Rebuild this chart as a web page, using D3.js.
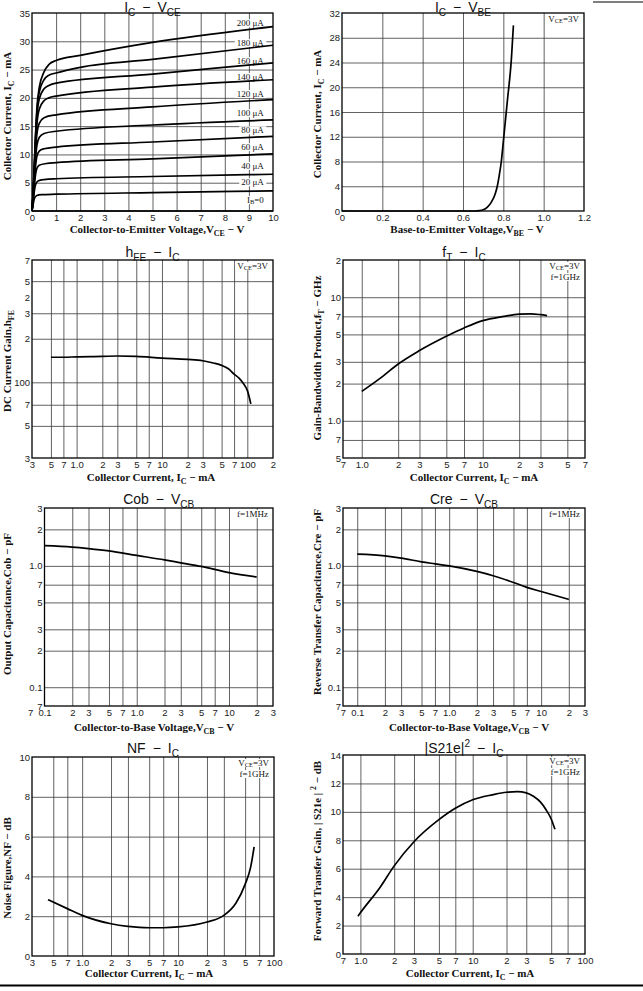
<!DOCTYPE html>
<html>
<head>
<meta charset="utf-8">
<title>Transistor characteristic curves</title>
<script src="https://cdn.jsdelivr.net/npm/d3@7"></script>
<style>
  body { margin:0; background:#fff; }
  .grid line { stroke:#3a3a3a; stroke-width:0.8; }
  .grid path { display:none; }
  .ticks path, .ticks line { display:none; }
  .ticks text { font-family:"Liberation Sans", Arial, sans-serif; font-size:9.5px; fill:#222; }
  .title { font-family:"Liberation Sans", Arial, sans-serif; font-size:14px; fill:#111; }
  .axtitle { font-family:"Liberation Serif", "Times New Roman", serif; font-weight:bold; font-size:11px; fill:#111; }
  .note { font-family:"Liberation Serif", "Times New Roman", serif; font-size:9px; fill:#111; }
  .curve { fill:none; stroke:#000; stroke-width:1.7; }
</style>
</head>
<body>
<div id="sheet"></div>
<script>
// ---- IC - VCE (one curve per base current, uA) ----
var vceTicks = [0,1,2,3,4,5,6,7,8,9,10];
var vceIcTicks = [0,5,10,15,20,25,30,35];
var vceIb0   = [[0,0],[10,0]];
var vceIb20  = [[0,0],[0.05,1.2],[0.1,2.2],[0.2,2.75],[0.4,2.9],[1,2.97],[5,3.25],[10,3.55]];
var vceIb40  = [[0,0],[0.05,1.8],[0.1,3.6],[0.15,4.7],[0.25,5.3],[0.5,5.55],[1,5.7],[5,6.1],[10,6.5]];
var vceIb60  = [[0,0],[0.05,2.2],[0.1,4.6],[0.15,6.5],[0.2,7.5],[0.3,8.1],[0.6,8.4],[1,8.55],[5,9.2],[10,10.1]];
var vceIb80  = [[0,0],[0.05,2.5],[0.1,5.5],[0.15,8.0],[0.2,9.6],[0.3,10.6],[0.5,11.0],[1,11.3],[5,12.2],[10,13.2]];
var vceIb100 = [[0,0],[0.05,2.8],[0.1,6.3],[0.15,9.5],[0.2,11.5],[0.3,13.0],[0.5,13.7],[1,14.1],[5,15.2],[10,16.1]];
var vceIb120 = [[0,0],[0.05,3.0],[0.1,7.0],[0.15,10.8],[0.2,13.5],[0.3,15.5],[0.5,16.5],[1,17.0],[5,18.4],[10,19.7]];
var vceIb140 = [[0,0],[0.05,3.2],[0.1,7.5],[0.15,12.0],[0.2,15.2],[0.3,18.0],[0.5,19.5],[0.7,20.0],[1,20.3],[5,21.9],[10,23.2]];
var vceIb160 = [[0,0],[0.05,3.4],[0.1,8.0],[0.15,12.8],[0.2,16.5],[0.3,19.8],[0.5,21.6],[0.7,22.2],[1,22.6],[5,24.2],[10,26.2]];
var vceIb180 = [[0,0],[0.05,3.5],[0.1,8.3],[0.15,13.3],[0.2,17.3],[0.3,21.0],[0.5,23.2],[0.7,24.0],[1,24.4],[2,25.4],[5,26.8],[10,29.3]];
var vceIb200 = [[0,0],[0.05,3.6],[0.1,8.6],[0.15,13.8],[0.2,18.0],[0.3,21.8],[0.5,24.6],[0.7,25.9],[1,26.6],[2,27.5],[5,29.8],[10,32.6]];
var vceLabelIb = ["0","20","40","60","80","100","120","140","160","180","200"];
var vceLabelIc = [1.4,5.1,8.0,11.3,14.3,17.3,20.7,23.7,26.5,29.7,33.2];

// ---- IC - VBE ----
var vbeTicks = [0,0.2,0.4,0.6,0.8,1.0,1.2];
var vbeTickLabels = ["0","0.2","0.4","0.6","0.8","1.0","1.2"];
var vbeIcTicks = [0,4,8,12,16,20,24,28,32];
var vbeV  = [0, 0.66, 0.68, 0.70, 0.72, 0.74, 0.76, 0.77, 0.78, 0.79, 0.80, 0.82, 0.84, 0.85];
var vbeIc = [0, 0, 0.05, 0.2, 0.6, 1.4, 2.8, 4.0, 5.8, 8.0, 11.2, 17.8, 24.6, 30.0];

// ---- hFE - IC ----
var hfeXTicks  = [0.3,0.5,0.7,1,2,3,5,7,10,20,30,50,70,100,200];
var hfeXLabels = ["3","5","7","1.0","2","3","5","7","10","2","3","5","7","100","2"];
var hfeYTicks  = [30,50,70,100,200,300,383,500,700];
var hfeYLabels = ["3","5","7","100","2","3","2","5","7"];
var hfeIc  = [0.5, 0.7, 1, 2, 3, 5, 10, 20, 30, 40, 50, 60, 70, 80, 90, 100, 110];
var hfeVal = [149, 149, 150, 151, 152, 151, 147, 144, 141, 136, 131, 124, 114, 107, 98, 88, 71];

// ---- fT - IC ----
var ftXTicks  = [0.7,1,2,3,5,7,10,20,30,50,70];
var ftXLabels = ["7","1.0","2","3","5","7","10","2","3","5","7"];
var ftYTicks  = [0.5,0.7,1,2,3,5,7,10,20];
var ftYLabels = ["5","7","1.0","2","3","5","7","10","2"];
var ftIc  = [1.0, 1.5, 2, 3, 5, 7, 10, 15, 20, 25, 30, 34];
var ftVal = [1.73, 2.3, 2.88, 3.7, 4.83, 5.64, 6.47, 7.0, 7.3, 7.33, 7.22, 7.1];

// ---- Cob / Cre - VCB ----
var capXTicks  = [0.07,0.1,0.2,0.3,0.5,0.7,1,2,3,5,7,10,20,30];
var capXLabels = ["7","0.1","2","3","5","7","1.0","2","3","5","7","10","2","3"];
var capYTicks  = [0.07,0.1,0.2,0.3,0.5,0.7,1,2,3];
var capYLabels = ["7","0.1","2","3","5","7","1.0","2","3"];
var cobV   = [0.1, 0.2, 0.3, 0.5, 1, 2, 3, 5, 10, 20];
var cobVal = [1.47, 1.43, 1.39, 1.33, 1.22, 1.12, 1.06, 0.99, 0.88, 0.81];
var creV   = [0.1, 0.2, 0.3, 0.5, 0.7, 1, 2, 3, 5, 7, 10, 20];
var creVal = [1.25, 1.21, 1.16, 1.08, 1.04, 1.0, 0.90, 0.83, 0.73, 0.665, 0.615, 0.53];

// ---- NF - IC ----
var nfXTicks  = [0.3,0.5,0.7,1,2,3,5,7,10,20,30,50,70,100];
var nfXLabels = ["3","5","7","1.0","2","3","5","7","10","2","3","5","7","100"];
var nfYTicks  = [0,2,4,6,8,10];
var nfIc  = [0.44, 0.7, 1, 2, 3, 5, 7, 10, 20, 30, 40, 50, 57, 62];
var nfVal = [2.83, 2.38, 2.04, 1.62, 1.49, 1.42, 1.42, 1.46, 1.71, 2.04, 2.65, 3.6, 4.45, 5.48];

// ---- |S21e|^2 - IC ----
var s21XTicks  = [0.7,1,2,3,5,7,10,20,30,50,70,100];
var s21XLabels = ["7","1.0","2","3","5","7","10","2","3","5","7","100"];
var s21YTicks  = [0,2,4,6,8,10,12,14];
var s21Ic  = [0.95, 1.0, 1.5, 2, 3, 5, 7, 10, 15, 20, 25, 30, 35, 40, 45, 50, 54];
var s21Val = [2.65, 2.9, 4.7, 6.2, 7.9, 9.45, 10.25, 10.85, 11.2, 11.38, 11.42, 11.34, 11.08, 10.7, 10.15, 9.5, 8.77];

var svg = d3.select("#sheet").append("svg")
  .attr("width", 643).attr("height", 991)
  .style("display", "block").style("background", "#fff");

// text with sub/superscript pieces: kind 0 normal, 1 sub, 2 sup
function rich(sel, parts, size, drop) {
  var cur = 0;
  drop = drop || 0.3;
  parts.forEach(function(p) {
    var off = p[1] === 1 ? size * drop : (p[1] === 2 ? -size * 0.45 : 0);
    var t = sel.append("tspan").attr("dy", off - cur).text(p[0]);
    if (p[1]) t.style("font-size", (size * 0.72) + "px");
    cur = off;
  });
  return sel;
}

// white box behind a text so the grid does not run through it
function knockout(t) {
  var bb = t.node().getBBox();
  svg.insert("rect", function() { return t.node(); })
    .attr("x", bb.x - 2).attr("y", bb.y + 1).attr("width", bb.width + 4).attr("height", bb.height - 2)
    .attr("fill", "#fff");
}

function drawPanel(p) {
  var L = p.box[0], T = p.box[1], R = p.box[2], B = p.box[3];
  var x = (p.xLog ? d3.scaleLog() : d3.scaleLinear()).domain(p.xDomain).range([L, R]);
  var y = (p.yLog ? d3.scaleLog() : d3.scaleLinear()).domain(p.yDomain).range([B, T]);

  svg.append("g").attr("class", "grid").attr("transform", "translate(0," + B + ")")
    .call(d3.axisBottom(x).tickValues(p.xGrid).tickSize(-(B - T)).tickFormat(""));
  svg.append("g").attr("class", "grid").attr("transform", "translate(" + L + ",0)")
    .call(d3.axisLeft(y).tickValues(p.yGrid).tickSize(-(R - L)).tickFormat(""));

  svg.append("g").attr("class", "ticks").attr("transform", "translate(0," + B + ")")
    .call(d3.axisBottom(x).tickValues(p.xTicks).tickSize(0).tickPadding(3)
      .tickFormat(function(d, i) { return p.xLabels[i]; }));
  svg.append("g").attr("class", "ticks").attr("transform", "translate(" + L + ",0)")
    .call(d3.axisLeft(y).tickValues(p.yTicks).tickSize(0).tickPadding(2)
      .tickFormat(function(d, i) { return p.yLabels[i]; }));

  (p.notes || []).forEach(function(n, i) {
    var t = rich(svg.append("text").attr("class", "note").attr("text-anchor", "end")
      .attr("x", R - 5).attr("y", T + 9 + i * 11), n, 9, 0.12);
    knockout(t);
  });

  svg.append("rect").attr("x", L).attr("y", T).attr("width", R - L).attr("height", B - T)
    .attr("fill", "none").attr("stroke", "#000").attr("stroke-width", 1.3);

  rich(svg.append("text").attr("class", "title").attr("text-anchor", "middle")
    .attr("x", (L + R) / 2).attr("y", p.titleY), p.title, 14, 0.25);
  rich(svg.append("text").attr("class", "axtitle").attr("text-anchor", "middle")
    .attr("x", p.xTitlePos[0]).attr("y", p.xTitlePos[1]), p.xTitle, 11, 0.25);
  rich(svg.append("text").attr("class", "axtitle").attr("text-anchor", "middle")
    .attr("transform", "translate(" + p.yTitlePos[0] + "," + p.yTitlePos[1] + ") rotate(-90)"), p.yTitle, 11, 0.25);

  return {x: x, y: y};
}

function plotCurve(sc, pts) {
  svg.append("path").datum(pts).attr("class", "curve")
    .attr("d", d3.line().x(function(d) { return sc.x(d[0]); })
      .y(function(d) { return sc.y(d[1]); }).curve(d3.curveMonotoneX));
}

var minus = "\u2002\u2212\u2002";
var icTitle = [["Collector Current, I", 0], ["C", 1], [" \u2212 mA", 0]];
var vce3 = [["V", 0], ["CE", 1], ["=3V", 0]];

// ---------- IC - VCE ----------
var p1 = drawPanel({
  box: [32, 13, 273, 211], xDomain: [0, 10], yDomain: [0, 35],
  xGrid: vceTicks.slice(1, -1), yGrid: vceIcTicks.slice(1, -1),
  xTicks: vceTicks, xLabels: vceTicks.map(String), yTicks: vceIcTicks, yLabels: vceIcTicks.map(String),
  title: [["I", 0], ["C", 1], [minus + "V", 0], ["CE", 1]], titleY: 12,
  xTitle: [["Collector-to-Emitter Voltage,V", 0], ["CE", 1], [" \u2212 V", 0]], xTitlePos: [157, 233],
  yTitle: icTitle, yTitlePos: [11, 116]
});
vceLabelIb.forEach(function(ib, i) {
  var t = svg.append("text").attr("class", "note").attr("text-anchor", "end")
    .attr("x", p1.x(9.62)).attr("y", p1.y(vceLabelIc[i])).attr("dy", "0.35em");
  if (ib === "0") rich(t, [["I", 0], ["B", 1], ["=0", 0]], 9, 0.12);
  else t.text(ib + " \u03bcA");
  knockout(t);
});
[vceIb0, vceIb20, vceIb40, vceIb60, vceIb80, vceIb100, vceIb120, vceIb140, vceIb160, vceIb180, vceIb200]
  .forEach(function(c) { plotCurve(p1, c); });

// ---------- IC - VBE ----------
var p2 = drawPanel({
  box: [342, 13, 584, 211], xDomain: [0, 1.2], yDomain: [0, 32],
  xGrid: vbeTicks.slice(1, -1), yGrid: vbeIcTicks.slice(1, -1),
  xTicks: vbeTicks, xLabels: vbeTickLabels, yTicks: vbeIcTicks, yLabels: vbeIcTicks.map(String),
  title: [["I", 0], ["C", 1], [minus + "V", 0], ["BE", 1]], titleY: 12,
  xTitle: [["Base-to-Emitter Voltage,V", 0], ["BE", 1], [" \u2212 V", 0]], xTitlePos: [467, 233],
  yTitle: icTitle, yTitlePos: [321, 114],
  notes: [vce3]
});
plotCurve(p2, d3.zip(vbeV, vbeIc));

// ---------- hFE - IC ----------
var p3 = drawPanel({
  box: [32, 260, 273, 458], xLog: true, yLog: true, xDomain: [0.3, 200], yDomain: [30, 700],
  xGrid: hfeXTicks.slice(1, -1), yGrid: [50, 70, 100, 200, 300, 500],
  xTicks: hfeXTicks, xLabels: hfeXLabels, yTicks: hfeYTicks, yLabels: hfeYLabels,
  title: [["h", 0], ["FE", 1], [minus + "I", 0], ["C", 1]], titleY: 257,
  xTitle: icTitle, xTitlePos: [151, 481],
  yTitle: [["DC Current Gain,h", 0], ["FE", 1]], yTitlePos: [11, 361],
  notes: [vce3]
});
plotCurve(p3, d3.zip(hfeIc, hfeVal));

// ---------- fT - IC ----------
var p4 = drawPanel({
  box: [343, 260, 585, 458], xLog: true, yLog: true, xDomain: [0.7, 70], yDomain: [0.5, 20],
  xGrid: ftXTicks.slice(1, -1), yGrid: ftYTicks.slice(1, -1),
  xTicks: ftXTicks, xLabels: ftXLabels, yTicks: ftYTicks, yLabels: ftYLabels,
  title: [["f", 0], ["T", 1], [minus + "I", 0], ["C", 1]], titleY: 257,
  xTitle: icTitle, xTitlePos: [474, 481],
  yTitle: [["Gain-Bandwidth Product,f", 0], ["T", 1], [" \u2212 GHz", 0]], yTitlePos: [321, 358],
  notes: [vce3, [["f=1GHz", 0]]]
});
plotCurve(p4, d3.zip(ftIc, ftVal));

// ---------- Cob - VCB ----------
var p5 = drawPanel({
  box: [44.5, 508, 273, 706], xLog: true, yLog: true, xDomain: [0.1, 30], yDomain: [0.07, 3],
  xGrid: capXTicks.slice(2, -1), yGrid: capYTicks.slice(1, -1),
  xTicks: capXTicks, xLabels: capXLabels, yTicks: capYTicks, yLabels: capYLabels,
  title: [["Cob" + minus + "V", 0], ["CB", 1]], titleY: 504,
  xTitle: [["Collector-to-Base Voltage,V", 0], ["CB", 1], [" \u2212 V", 0]], xTitlePos: [154, 731],
  yTitle: [["Output Capacitance,Cob \u2212 pF", 0]], yTitlePos: [11, 604],
  notes: [[["f=1MHz", 0]]]
});
plotCurve(p5, d3.zip(cobV, cobVal));

// ---------- Cre - VCB ----------
var p6 = drawPanel({
  box: [343, 508, 585, 706], xLog: true, yLog: true, xDomain: [0.07, 30], yDomain: [0.07, 3],
  xGrid: capXTicks.slice(1, -1), yGrid: capYTicks.slice(1, -1),
  xTicks: capXTicks, xLabels: capXLabels, yTicks: capYTicks, yLabels: capYLabels,
  title: [["Cre" + minus + "V", 0], ["CB", 1]], titleY: 504,
  xTitle: [["Collector-to-Base Voltage,V", 0], ["CB", 1], [" \u2212 V", 0]], xTitlePos: [469, 731],
  yTitle: [["Reverse Transfer Capacitance,Cre \u2212 pF", 0]], yTitlePos: [321, 602],
  notes: [[["f=1MHz", 0]]]
});
plotCurve(p6, d3.zip(creV, creVal));

// ---------- NF - IC ----------
var p7 = drawPanel({
  box: [32, 757, 274, 956], xLog: true, xDomain: [0.3, 100], yDomain: [0, 10],
  xGrid: nfXTicks.slice(1, -1), yGrid: nfYTicks.slice(1, -1),
  xTicks: nfXTicks, xLabels: nfXLabels, yTicks: nfYTicks, yLabels: nfYTicks.map(String),
  title: [["NF" + minus + "I", 0], ["C", 1]], titleY: 753,
  xTitle: icTitle, xTitlePos: [149, 977],
  yTitle: [["Noise Figure,NF \u2212 dB", 0]], yTitlePos: [11, 868],
  notes: [vce3, [["f=1GHz", 0]]]
});
plotCurve(p7, d3.zip(nfIc, nfVal));

// ---------- |S21e|^2 - IC ----------
var p8 = drawPanel({
  box: [343, 755, 585, 954], xLog: true, xDomain: [0.7, 100], yDomain: [0, 14],
  xGrid: s21XTicks.slice(1, -1), yGrid: s21YTicks.slice(1, -1),
  xTicks: s21XTicks, xLabels: s21XLabels, yTicks: s21YTicks, yLabels: s21YTicks.map(String),
  title: [["|S21e|", 0], ["2", 2], [minus + "I", 0], ["C", 1]], titleY: 753,
  xTitle: icTitle, xTitlePos: [470, 977],
  yTitle: [["Forward Transfer Gain, | S21e | ", 0], ["2", 2], [" \u2212 dB", 0]], yTitlePos: [321, 851],
  notes: [vce3, [["f=1GHz", 0]]]
});
plotCurve(p8, d3.zip(s21Ic, s21Val));

// page rules
svg.append("line").attr("x1", 593).attr("x2", 643).attr("y1", 2).attr("y2", 2)
  .attr("stroke", "#000").attr("stroke-width", 1.2);
svg.append("line").attr("x1", 0).attr("x2", 643).attr("y1", 985.5).attr("y2", 985.5)
  .attr("stroke", "#000").attr("stroke-width", 2);
</script>
</body>
</html>
